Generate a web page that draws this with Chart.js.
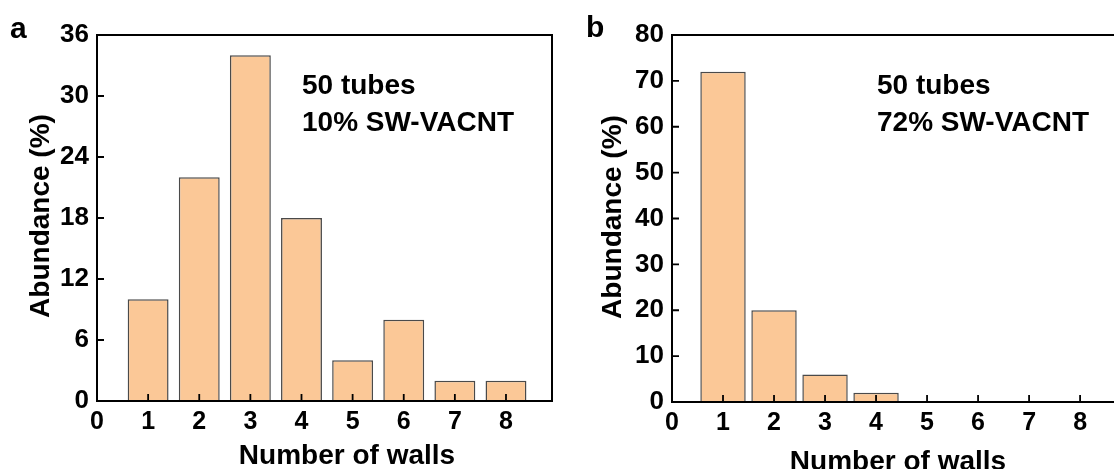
<!DOCTYPE html>
<html><head><meta charset="utf-8">
<script src="https://cdn.jsdelivr.net/npm/chart.js@4/dist/chart.umd.min.js"></script>
<style>
html,body{margin:0;padding:0;width:1114px;height:469px;overflow:hidden;background:#fff;}
.p{position:absolute;top:0;height:469px;}
#wa{left:0;width:560px;}
#wb{left:560px;width:600px;}
</style></head><body>
<div class="p" id="wa"><canvas id="ca" width="560" height="469"></canvas></div>
<div class="p" id="wb"><canvas id="cb" width="600" height="469"></canvas></div>
<script>
// ---- data ----
const walls = [1, 2, 3, 4, 5, 6, 7, 8];
const abundanceA = [10, 22, 34, 18, 4, 8, 2, 2];
const abundanceB = [72, 20, 6, 2, 0, 0, 0, 0];
const xTicks = [0, 1, 2, 3, 4, 5, 6, 7, 8];
const yTicksA = [0, 6, 12, 18, 24, 30, 36];
const yTicksB = [0, 10, 20, 30, 40, 50, 60, 70, 80];
const annotationA = ['50 tubes', '10% SW-VACNT'];
const annotationB = ['50 tubes', '72% SW-VACNT'];
const xTitle = 'Number of walls';
const yTitle = 'Abundance (%)';
const panelA = 'a';
const panelB = 'b';

const FONT = "'Liberation Sans', Arial, sans-serif";
const BAR_FILL = '#FBC897';
const BAR_EDGE = '#4a4a4a';

const decor = {
  id: 'decor',
  afterDatasetsDraw(chart) {
    const {ctx, chartArea: a, scales: {x, y}} = chart;
    ctx.save();
    ctx.strokeStyle = '#000';
    ctx.lineWidth = 2;
    ctx.strokeRect(a.left, a.top, a.right - a.left, a.bottom - a.top);
    ctx.lineWidth = 1.8;
    ctx.beginPath();
    x.ticks.forEach(t => { const px = x.getPixelForValue(t.value); ctx.moveTo(px, a.bottom); ctx.lineTo(px, a.bottom - 7); });
    y.ticks.forEach(t => { const py = y.getPixelForValue(t.value); ctx.moveTo(a.left, py); ctx.lineTo(a.left + 7, py); });
    ctx.stroke();
    ctx.restore();
  },
  afterDraw(chart, args, o) {
    const ctx = chart.ctx;
    ctx.save();
    ctx.fillStyle = '#000';
    ctx.font = "bold 28px " + FONT;
    ctx.textAlign = 'left';
    ctx.textBaseline = 'alphabetic';
    ctx.fillText(o.annotation[0], o.annX, o.annY1);
    ctx.fillText(o.annotation[1], o.annX, o.annY2);
    ctx.textAlign = 'center';
    ctx.fillText(xTitle, o.xtX, o.xtY);
    ctx.save();
    ctx.translate(o.ytX, o.ytY);
    ctx.rotate(-Math.PI / 2);
    ctx.textBaseline = 'middle';
    ctx.fillText(yTitle, 0, 0);
    ctx.restore();
    ctx.font = "bold 30px " + FONT;
    ctx.textAlign = 'left';
    ctx.fillText(o.letter, o.letX, o.letY);
    ctx.restore();
  }
};

function makeChart(id, values, yTicks, p) {
  return new Chart(document.getElementById(id), {
    type: 'bar',
    data: {
      datasets: [{
        data: walls.map((w, i) => ({x: w, y: values[i]})),
        backgroundColor: BAR_FILL,
        borderColor: BAR_EDGE,
        borderWidth: 1.5,
        categoryPercentage: 1,
        barPercentage: p.barPct
      }]
    },
    options: {
      responsive: false,
      animation: false,
      devicePixelRatio: 1,
      layout: {padding: p.padding},
      plugins: {legend: {display: false}, tooltip: {enabled: false}, decor: p.decor},
      scales: {
        x: {
          type: 'linear', min: 0, max: 8.9, offset: false,
          grid: {display: false, drawTicks: false, offset: false}, border: {display: false},
          afterBuildTicks: s => { s.ticks = xTicks.map(v => ({value: v})); },
          afterFit: s => { s.height = p.xHeight; },
          ticks: {color: '#000', font: {family: FONT, size: 25, weight: 'bold'}, padding: 6, maxRotation: 0, autoSkip: false}
        },
        y: {
          min: 0, max: yTicks[yTicks.length - 1],
          grid: {display: false, drawTicks: false}, border: {display: false},
          afterBuildTicks: s => { s.ticks = yTicks.map(v => ({value: v})); },
          afterFit: s => { s.width = p.yWidth; },
          ticks: {color: '#000', font: {family: FONT, size: 26, weight: 'bold'}, padding: 8}
        }
      }
    },
    plugins: [decor]
  });
}

makeChart('ca', abundanceA, yTicksA, {
  barPct: 0.80,
  padding: {left: 0, right: 8, top: 35, bottom: 0},
  xHeight: 68, yWidth: 97,
  decor: {annotation: annotationA, annX: 302, annY1: 94, annY2: 131,
          xtX: 347, xtY: 464, ytX: 41, ytY: 216, letter: panelA, letX: 10, letY: 38}
});
makeChart('cb', abundanceB, yTicksB, {
  barPct: 0.89,
  padding: {left: 0, right: 34, top: 35, bottom: 0},
  xHeight: 67, yWidth: 112,
  decor: {annotation: annotationB, annX: 317, annY1: 94, annY2: 131,
          xtX: 338, xtY: 470, ytX: 53, ytY: 217, letter: panelB, letX: 26, letY: 37}
});
</script>
</body></html>
